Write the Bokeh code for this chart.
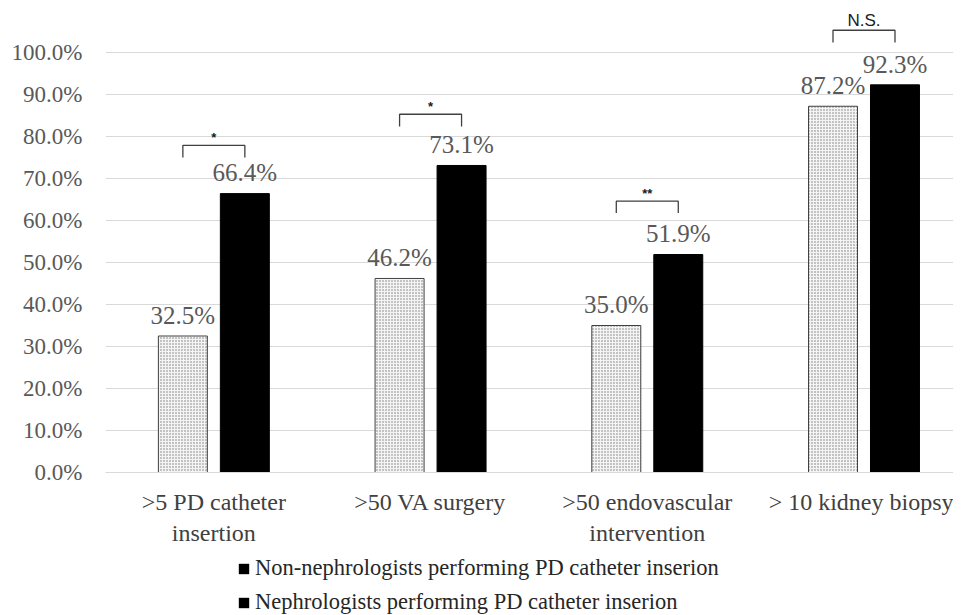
from bokeh.plotting import figure
from bokeh.layouts import column
from bokeh.models import (ColumnDataSource, FixedTicker, Range1d, Legend, LegendItem)
from bokeh.core.properties import value
from bokeh.transform import dodge
from bokeh.embed import file_html
from bokeh.resources import INLINE

categories = [">5 PD catheter\ninsertion", ">50 VA surgery",
              ">50 endovascular\nintervention", "> 10 kidney biopsy"]
non_neph = [32.5, 46.2, 35.0, 87.2]
neph = [66.4, 73.1, 51.9, 92.3]
sig_marks = ["*", "*", "**", "N.S."]
bracket_top = [77.9, 85.3, 64.6, 105.3]
bracket_leg = [75.0, 82.4, 61.8, 102.4]
series_names = ["Non-nephrologists performing PD catheter inserion",
                "Nephrologists performing PD catheter inserion"]
y_ticks = [0, 10, 20, 30, 40, 50, 60, 70, 80, 90, 100]

SERIF = "Liberation Serif"
SANS = "Liberation Sans"

xs = list(range(len(categories)))
off = 0.143
bw = 0.226

p = figure(width=953, height=554, output_backend="svg", toolbar_location=None,
           x_range=Range1d(-0.5, 3.413), y_range=Range1d(0, 110),
           min_border_left=105, min_border_right=0, min_border_top=10,
           min_border_bottom=82)
p.outline_line_color = None
p.background_fill_color = "white"

src1 = ColumnDataSource(dict(x=[x - off for x in xs], top=non_neph,
                             lab=[f"{v:.1f}%" for v in non_neph]))
src2 = ColumnDataSource(dict(x=[x + off for x in xs], top=neph,
                             lab=[f"{v:.1f}%" for v in neph]))

p.vbar(x="x", top="top", width=bw, source=src1, fill_color="#f4f4f4",
       hatch_pattern="dot", hatch_color="#7a7a7a", hatch_scale=3, hatch_weight=1,
       line_color="#404040", line_width=1)
p.vbar(x="x", top="top", width=bw, source=src2, fill_color="black",
       line_color="black")

for src in (src1, src2):
    p.text(x="x", y=dodge("top", 1.7), text="lab", source=src, text_align="center",
           text_baseline="bottom", text_font=value(SERIF),
           text_font_size="25px", text_color="#595959")

# significance brackets
bx0 = [x - off for x in xs]
bx1 = [x + off for x in xs]
p.multi_line(xs=[[a, a, b, b] for a, b in zip(bx0, bx1)],
             ys=[[l, t, t, l] for t, l in zip(bracket_top, bracket_leg)],
             line_color="#404040", line_width=1.3)
p.text(x=xs[:3], y=bracket_top[:3], text=sig_marks[:3], text_align="center",
       text_baseline="bottom", text_font=value(SANS),
       text_font_size="13px", text_color="#202020", text_font_style="bold")
p.text(x=xs[3:], y=bracket_top[3:], text=sig_marks[3:], text_align="center",
       text_baseline="bottom", text_font=value(SANS),
       text_font_size="17px", text_color="#202020")

# axes
p.xaxis.ticker = FixedTicker(ticks=xs)
p.xaxis.major_label_overrides = {i: c for i, c in zip(xs, categories)}
p.xaxis.major_label_text_font = SERIF
p.xaxis.major_label_text_font_size = "24px"
p.xaxis.major_label_text_line_height = 1.2
p.xaxis.major_label_text_color = "#404040"
p.xaxis.major_label_standoff = 10
p.xaxis.major_tick_line_color = None
p.xaxis.minor_tick_line_color = None
p.xaxis.axis_line_color = "#d9d9d9"
p.xgrid.grid_line_color = None

p.yaxis.ticker = FixedTicker(ticks=y_ticks)
p.yaxis.major_label_overrides = {t: f"{t:.1f}%" for t in y_ticks}
p.yaxis.major_label_text_font = SERIF
p.yaxis.major_label_text_font_size = "23px"
p.yaxis.major_label_text_color = "#595959"
p.yaxis.major_label_standoff = 17
p.yaxis.major_tick_line_color = None
p.yaxis.minor_tick_line_color = None
p.yaxis.axis_line_color = None
p.ygrid.grid_line_color = "#d9d9d9"
p.ygrid.grid_line_width = 1

# legend strip (both markers black as in the reference); the series bars here
# lie entirely outside this strip's ranges, only their legend swatches are drawn
p2 = figure(width=953, height=61, output_backend="svg", toolbar_location=None,
            x_range=Range1d(100, 101), y_range=Range1d(500, 501),
            x_axis_location=None, y_axis_location=None,
            min_border=0, min_border_left=105, min_border_right=0,
            min_border_top=0, min_border_bottom=0)
p2.outline_line_color = None
p2.grid.visible = False
d1 = p2.vbar(x=[x - off for x in xs], top=non_neph, width=bw,
             fill_color="black", line_color=None)
d2 = p2.vbar(x=[x + off for x in xs], top=neph, width=bw,
             fill_color="black", line_color=None)
legend = Legend(items=[LegendItem(label=series_names[0], renderers=[d1]),
                       LegendItem(label=series_names[1], renderers=[d2])],
                orientation="vertical", location=(132, 0),
                label_text_font=SERIF, label_text_font_size="22.5px",
                label_text_color="#262626", glyph_width=13, glyph_height=13,
                label_standoff=5, spacing=8, padding=0, margin=0,
                border_line_color=None, background_fill_alpha=0)
p2.add_layout(legend, "center")

layout = column(p, p2, spacing=0)
open("out.html", "w").write(file_html(layout, INLINE))
